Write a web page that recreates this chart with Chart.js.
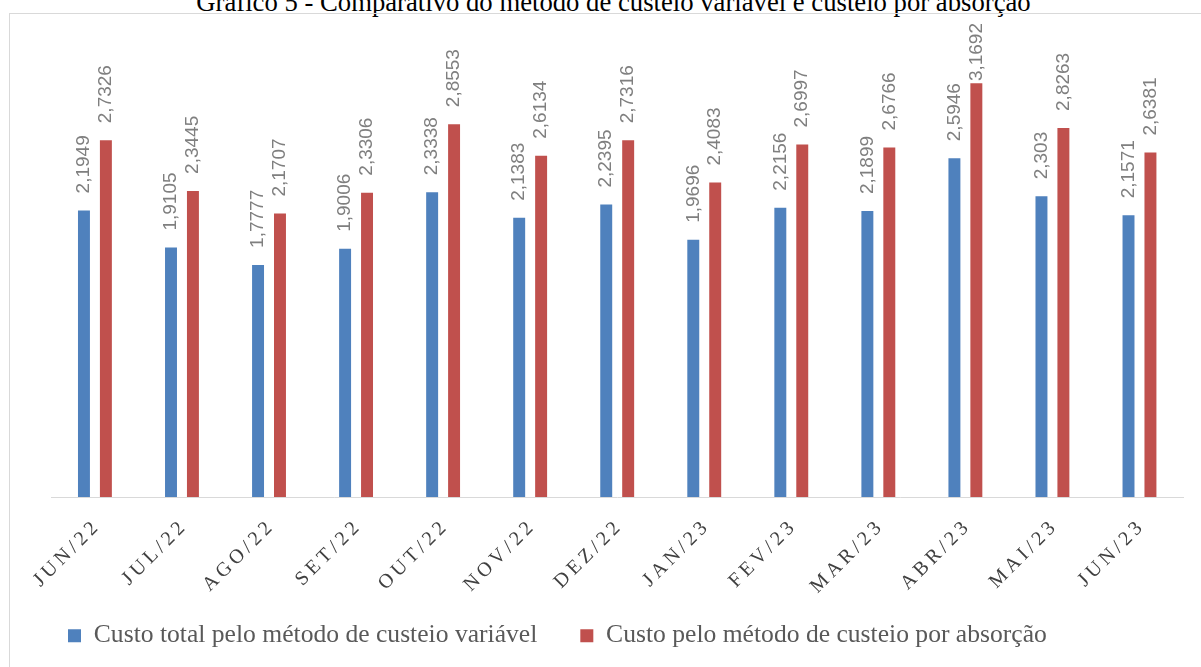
<!DOCTYPE html>
<html>
<head>
<meta charset="utf-8">
<script src="https://cdn.jsdelivr.net/npm/chart.js@4.4.1/dist/chart.umd.min.js"></script>
<style>
    html, body { margin: 0; padding: 0; background: #fff; overflow: hidden; }
    #titulo {
        position: absolute; left: 0; width: 1227px; top: -11px;
        text-align: center; font: 26.7px "Liberation Serif", serif; color: #000;
        line-height: 27px; white-space: nowrap;
    }
    #moldura {
        position: absolute; left: 9px; top: 13px; width: 1300px; height: 700px;
        border-left: 1px solid #d9d9d9; border-top: 1px solid #d9d9d9;
    }
    #chartCustos { position: absolute; left: 0; top: 0; }
</style>
</head>
<body>
<div id="titulo">Gráfico 5 - Comparativo do método de custeio variável e custeio por absorção</div>
<div id="moldura"></div>
<canvas id="chartCustos" width="1201" height="667"></canvas>
<script>
// ============ DADOS ============
const MESES = ['JUN/22','JUL/22','AGO/22','SET/22','OUT/22','NOV/22','DEZ/22',
               'JAN/23','FEV/23','MAR/23','ABR/23','MAI/23','JUN/23'];
const CUSTO_VARIAVEL = [2.1949, 1.9105, 1.7777, 1.9006, 2.3338, 2.1383, 2.2395,
                        1.9696, 2.2156, 2.1899, 2.5946, 2.303, 2.1571];
const CUSTO_ABSORCAO = [2.7326, 2.3445, 2.1707, 2.3306, 2.8553, 2.6134, 2.7316,
                        2.4083, 2.6997, 2.6766, 3.1692, 2.8263, 2.6381];

const COR_AZUL = '#4f81bd';
const COR_VERMELHO = '#c0504d';

// eixo de categorias sem recorte dos rotulos (eles descem ate a legenda)
class EixoMeses extends Chart.CategoryScale {
    _computeLabelArea() { return null; }
}
EixoMeses.id = 'eixoMeses';
Chart.register(EixoMeses);

// rotulos de dados girados sobre as barras
const rotulosBarras = {
    id: 'rotulosBarras',
    afterDatasetsDraw(chart) {
        const ctx = chart.ctx;
        ctx.save();
        ctx.font = '19px "Liberation Sans", sans-serif';
        ctx.fillStyle = '#7f7f7f';
        ctx.textAlign = 'left';
        ctx.textBaseline = 'middle';
        chart.data.datasets.forEach((ds, i) => {
            const meta = chart.getDatasetMeta(i);
            meta.data.forEach((bar, j) => {
                const txt = String(ds.data[j]).replace('.', ',');
                const w = ctx.measureText(txt).width;
                const y = Math.max(bar.y - 17, 23 + w);
                ctx.save();
                ctx.translate(bar.x, y);
                ctx.rotate(-Math.PI / 2);
                ctx.fillText(txt, 0, 0);
                ctx.restore();
            });
        });
        ctx.restore();
    }
};

const ctx = document.getElementById('chartCustos');
new Chart(ctx, {
    type: 'bar',
    data: {
        labels: MESES,
        datasets: [{
            label: 'Custo total pelo método de custeio variável',
            data: CUSTO_VARIAVEL,
            backgroundColor: COR_AZUL,
            categoryPercentage: 0.504,
            barPercentage: 0.545
        }, {
            label: 'Custo pelo método de custeio por absorção',
            data: CUSTO_ABSORCAO,
            backgroundColor: COR_VERMELHO,
            categoryPercentage: 0.504,
            barPercentage: 0.545
        }]
    },
    options: {
        responsive: false,
        animation: false,
        layout: { padding: { left: 25, right: 18, top: 40, bottom: 8.5 } },
        plugins: {
            tooltip: { enabled: false },
            legend: {
                position: 'bottom',
                align: 'start',
                labels: {
                    boxWidth: 13, boxHeight: 13, padding: 43,
                    color: '#595959',
                    font: { family: '"Liberation Serif", serif', size: 25.6 }
                }
            }
        },
        scales: {
            x: {
                type: 'eixoMeses',
                grid: { display: false, drawTicks: false },
                border: { display: true, color: '#d9d9d9', width: 1 },
                ticks: {
                    minRotation: 45, maxRotation: 45, autoSkip: false,
                    padding: 20,
                    color: '#404040',
                    font: { family: '"Liberation Serif", serif', size: 20 },
                    callback: (v, i) => MESES[i].split('').join('\u2009')
                },
                afterFit: s => { s.height = 82.9; }
            },
            y: {
                min: 0, max: 3.5,
                grid: { display: false },
                border: { display: false },
                ticks: { display: false },
                afterFit: s => { s.width = 26.4; }
            }
        }
    },
    plugins: [rotulosBarras]
});
</script>
</body>
</html>
